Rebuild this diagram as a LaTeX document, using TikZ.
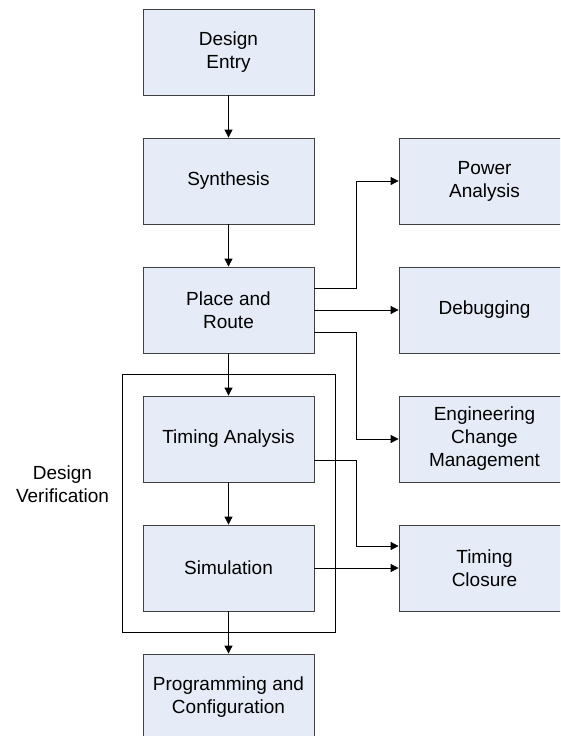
\documentclass[tikz,border=0pt]{standalone}
\usepackage{fontspec}
\setmainfont{Liberation Sans}
\usetikzlibrary{arrows.meta,positioning}
\definecolor{boxFill}{RGB}{230,236,247}
\definecolor{boxLine}{RGB}{64,64,64}

\begin{document}
\begin{tikzpicture}
  [x=1pt,y=-1pt,
   line width=0.8pt,
   flowNode/.style={draw=boxLine,fill=boxFill,minimum width=171pt,minimum height=86pt,
                    align=center,font=\fontsize{19}{23}\selectfont},
   stepN/.style={flowNode},
   sideN/.style={flowNode},
   conn/.style={-{Triangle[length=8pt,width=8pt]}},
  ]

 \clip (0,0) rectangle (560,736);

 % main flow
 \node[stepN] (entry)  at (228.5,52)  {Design\\Entry};
 \node[stepN] (synth)  at (228.5,181) {Synthesis};
 \node[stepN] (route)  at (228.5,310) {Place and\\Route};
 \node[stepN] (timing) at (228.5,439) {Timing Analysis};
 \node[stepN] (sim)    at (228.5,568) {Simulation};
 \node[stepN] (prog)   at (228.5,697) {Programming and\\Configuration};

 % side tasks
 \node[sideN] (power)   at (484.5,181) {Power\\Analysis};
 \node[sideN] (debug)   at (484.5,310) {Debugging};
 \node[sideN] (eco)     at (484.5,439) {Engineering\\Change\\Management};
 \node[sideN] (closure) at (484.5,568) {Timing\\Closure};

 % verification frame
 \draw (122,374) rectangle (335,632);
 \node[align=center,font=\fontsize{19}{23}\selectfont] (verif) at (62.5,484) {Design\\Verification};

 \draw[conn] (entry) -- (synth);
 \draw[conn] (synth) -- (route);
 \draw[conn] (route) -- (timing);
 \draw[conn] (timing) -- (sim);
 \draw[conn] (sim) -- (prog);

 \draw[conn] ([yshift=22pt]route.east) -- ++(42,0) |- (power.west);
 \draw[conn] (route.east) -- (debug.west);
 \draw[conn] ([yshift=-22pt]route.east) -- ++(42,0) |- (eco.west);
 \draw[conn] ([yshift=-21pt]timing.east) -- ++(42,0) |- ([yshift=22pt]closure.west);
 \draw[conn] (sim.east) -- (closure.west);
\end{tikzpicture}
\end{document}
